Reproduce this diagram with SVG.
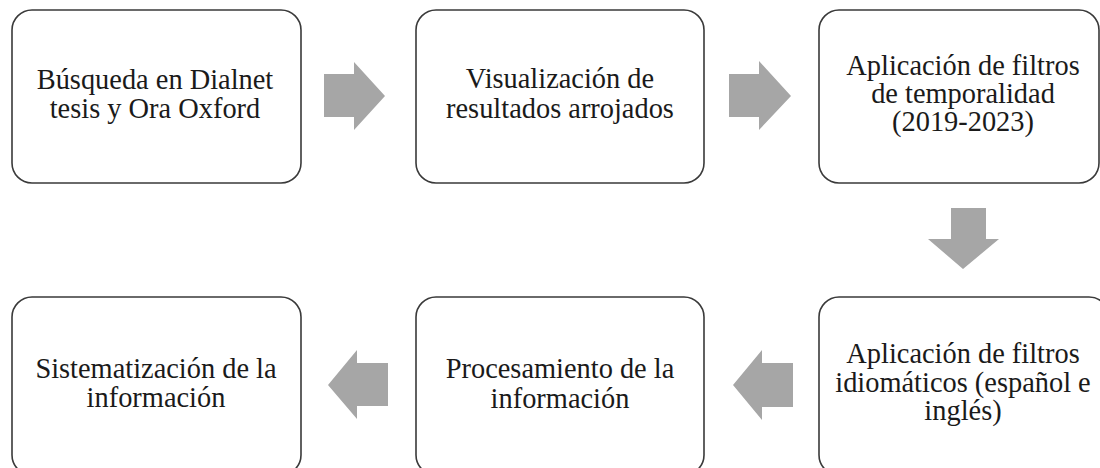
<svg xmlns="http://www.w3.org/2000/svg" width="1100" height="468" viewBox="0 0 1100 468">
<style>
.box{fill:#ffffff;stroke:#3a3a3a;stroke-width:1.6}
.t{font-family:"Liberation Serif","Times New Roman",serif;font-size:28.4px;fill:#1a1a1a;text-anchor:middle}
.arr{fill:#a6a6a6}
</style>
<rect width="1100" height="468" fill="#ffffff"/>
<g id="node1"><rect class="box" x="12" y="10" width="289" height="173" rx="20"/>
<text class="t" x="155" y="89">Búsqueda en Dialnet</text><text class="t" x="155" y="118">tesis y Ora Oxford</text></g>
<g id="node2"><rect class="box" x="416" y="10" width="288" height="173" rx="20"/>
<text class="t" x="560" y="88">Visualización de</text><text class="t" x="560" y="118">resultados arrojados</text></g>
<g id="node3"><rect class="box" x="819" y="10" width="280" height="173" rx="20"/>
<text class="t" x="963" y="75">Aplicación de filtros</text><text class="t" x="963" y="103">de temporalidad</text><text class="t" x="963" y="131">(2019-2023)</text></g>
<g id="node4"><rect class="box" x="819" y="297" width="290" height="178" rx="20"/>
<text class="t" x="963" y="363">Aplicación de filtros</text><text class="t" x="963" y="392">idiomáticos (español e</text><text class="t" x="963" y="420">inglés)</text></g>
<g id="node5"><rect class="box" x="416" y="297" width="288" height="178" rx="20"/>
<text class="t" x="560" y="378">Procesamiento de la</text><text class="t" x="560" y="408">información</text></g>
<g id="node6"><rect class="box" x="12" y="297" width="289" height="178" rx="20"/>
<text class="t" x="156" y="378">Sistematización de la</text><text class="t" x="156" y="407">información</text></g>
<g id="connectors">
<polygon class="arr" points="324,74 354,74 354,62 385,96 354,130 354,117 324,117"/>
<polygon class="arr" points="729,74 759,74 759,61 791,96 759,130 759,117 729,117"/>
<polygon class="arr" points="951,208 986,208 986,239 999,239 963,269 928,239 951,239"/>
<polygon class="arr" points="793,363 762,363 762,350 733,385 762,420 762,407 793,407"/>
<polygon class="arr" points="388,363 357,363 357,350 328,385 357,419 357,406 388,406"/>
</g>
</svg>
